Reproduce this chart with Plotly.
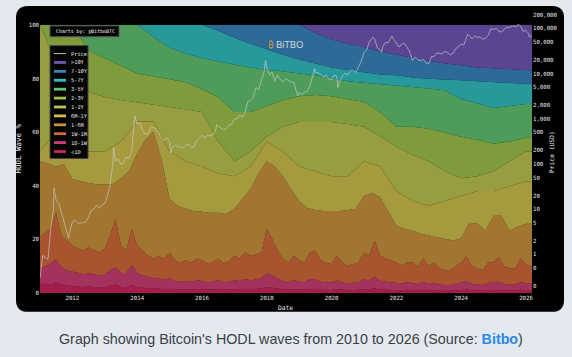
import plotly.graph_objects as go
import pandas as pd

# ---------------- layout geometry (pixels) ----------------
W, H = 572, 357
ML, MR, MT, MB = 40, 40, 10, 64
PW = W - ML - MR
PH = H - MT - MB


def px2x(px):
    return (px - ML) / PW


def px2y(py):
    return (H - MB - py) / PH


# ---------------- data ----------------
band_names = ["<1D", "1D-1W", "1W-1M", "1-6M", "6M-1Y", "1-2Y", "2-3Y", "3-5Y", "5-7Y", "7-10Y", ">10Y"]
band_colors = ["#ce245c", "#cc4076", "#d2693b", "#ca923c", "#cec24e", "#bdc450",
               "#9ec34b", "#63c370", "#31bfc0", "#3884be", "#7256b6"]

end_date = pd.Timestamp("2026-03-10")
dates_s = list(pd.date_range("2011-01-01", "2026-01-01", freq="6MS")) + [end_date]
dates_q = list(pd.date_range("2011-01-01", "2026-01-01", freq="3MS")) + [end_date]
dates_m = list(pd.date_range("2011-01-01", "2026-01-01", freq="2MS")) + [end_date]

# cumulative HODL wave boundaries (% of supply, top edge of each band)
lt1d_top = [3.0, 3.5, 3.0, 4.0, 3.0, 2.8, 2.5, 2.5, 2.2, 2.5, 2.2, 2.0,
            2.2, 2.8, 3.2, 2.2, 2.2, 3.0, 2.2, 2.0, 1.8, 1.6, 1.6, 1.5,
            1.6, 1.4, 1.3, 1.4, 1.3, 1.5, 1.4, 1.2, 1.3, 1.5, 1.2, 1.3,
            1.5, 1.4, 1.6, 1.5, 1.5, 1.7, 2.2, 1.9, 1.6, 1.3, 1.2, 1.4,
            1.2, 1.2, 1.5, 1.6, 1.2, 1.2, 1.1, 1.5, 1.2, 1.0, 1.1, 1.2,
            1.5, 1.4, 1.8, 1.3, 1.2, 1.1, 1.1, 1.0, 1.2, 1.1, 1.0, 1.2,
            1.0, 1.1, 0.9, 0.8, 0.8, 1.0, 1.1, 1.3, 1.0, 0.9, 0.8, 1.1,
            1.1, 1.2, 1.0, 0.9, 0.9, 1.2, 1.0, 1.0]
d1w_top = [9.0, 10.0, 11.0, 12.5, 9.5, 8.5, 8.0, 7.5, 7.0, 7.5, 7.0, 6.5,
           7.0, 8.5, 9.5, 7.5, 7.5, 10.5, 7.5, 6.5, 6.0, 5.5, 5.5, 5.0,
           5.5, 4.5, 4.2, 4.5, 4.2, 4.8, 4.5, 4.0, 4.2, 4.8, 4.0, 4.2,
           4.8, 4.5, 5.2, 4.8, 5.0, 5.5, 7.5, 6.5, 5.5, 4.5, 4.0, 4.8,
           4.2, 4.0, 5.0, 5.2, 4.2, 4.0, 3.8, 4.8, 4.0, 3.6, 3.8, 4.0,
           5.0, 4.8, 6.0, 4.6, 4.2, 4.0, 3.8, 3.5, 4.0, 3.8, 3.4, 4.2,
           3.4, 3.8, 3.2, 3.0, 3.0, 3.4, 3.8, 4.5, 3.4, 3.2, 3.0, 3.8,
           3.8, 4.2, 3.4, 3.2, 3.2, 4.0, 3.6, 3.4]
w1m_top = [21.0, 22.5, 24.0, 30.0, 21.0, 19.6, 17.7, 16.6, 15.9, 17.0, 15.9, 15.1,
           16.6, 21.4, 27.7, 17.7, 15.9, 24.0, 17.7, 15.9, 14.0, 12.9, 13.7, 12.9,
           15.1, 12.2, 11.1, 12.2, 11.4, 12.9, 12.2, 11.1, 11.4, 12.9, 11.1, 11.8,
           14.0, 12.9, 15.1, 14.0, 14.4, 15.1, 24.0, 20.3, 15.9, 12.9, 11.4, 14.0,
           12.2, 11.4, 15.1, 15.9, 12.2, 11.4, 10.7, 14.0, 11.4, 10.3, 10.7, 11.4,
           15.1, 14.0, 19.6, 14.0, 12.9, 12.2, 11.4, 10.3, 11.4, 11.4, 10.0, 12.9,
           10.0, 11.4, 9.2, 8.5, 8.5, 10.0, 11.4, 13.7, 10.0, 9.2, 8.5, 11.4,
           11.4, 13.3, 10.0, 9.2, 9.2, 12.9, 10.7, 10.0]
m1_6_top = [49.1, 48.3, 47.2, 48.0, 42.4, 41.7, 41.0, 40.6, 40.6, 40.6, 42.8, 45.4,
            52.0, 57.0, 60.0, 50.0, 35.1, 32.5, 31.4, 30.6, 30.3, 29.9, 29.9, 29.5,
            31.4, 35.1, 38.7, 44.6, 49.1, 47.2, 43.5, 38.7, 34.3, 31.7, 31.0, 30.6,
            30.6, 30.6, 31.0, 31.4, 36.2, 37.3, 35.8, 30.6, 25.1, 24.0, 23.2, 22.1,
            21.4, 21.0, 20.3, 19.6, 20.3, 26.2, 25.8, 23.2, 28.8, 28.8, 23.2, 24.7,
            25.8, 25.8]
m6_1y_top = [52.8, 60.1, 56.5, 52.8, 52.8, 56.5, 64.0, 64.0, 52.8, 49.1, 47.2, 44.6,
             43.5, 47.2, 56.5, 52.8, 47.2, 45.4, 43.5, 43.5, 49.1, 47.2, 38.0, 34.3,
             32.5, 34.3, 36.2, 38.0, 38.0, 39.9, 41.7, 41.7]
y1_2_top = [100.0, 86.0, 76.8, 75.0, 73.1, 72.0, 71.2, 70.3, 69.4, 68.5, 67.5, 56.5,
            49.1, 52.8, 58.3, 62.0, 63.8, 63.8, 63.8, 63.0, 62.0, 58.5, 54.6, 51.5,
            49.1, 45.4, 42.8, 43.5, 45.4, 49.1, 52.8, 52.8]
y2_3_top = [100.0, 100.0, 100.0, 90.4, 87.5, 84.5, 81.9, 80.8, 79.7, 78.6, 76.0, 73.1,
            67.5, 67.5, 69.7, 72.0, 73.4, 73.8, 73.4, 72.3, 71.2, 67.5, 62.0, 62.0,
            61.3, 59.8, 58.3, 57.2, 55.7, 56.5, 57.9, 58.3]
y3_5_top = [100.0, 100.0, 100.0, 100.0, 100.0, 100.0, 100.0, 95.6, 91.5, 89.3, 87.6, 86.3,
            85.1, 84.1, 83.2, 82.7, 81.9, 81.2, 80.1, 79.0, 78.4, 77.9, 77.3, 76.8,
            76.3, 75.6, 72.3, 70.8, 69.0, 69.7, 70.5, 70.5]
y5_7_top = [100.0, 100.0, 100.0, 100.0, 100.0, 100.0, 100.0, 100.0, 100.0, 100.0, 100.0, 97.8,
            95.2, 93.0, 90.8, 88.9, 87.1, 85.6, 84.1, 83.2, 82.3, 81.5, 81.2, 80.4,
            79.9, 79.5, 79.3, 79.0, 78.6, 78.2, 77.9, 77.9]
y7_10_top = [100.0, 100.0, 100.0, 100.0, 100.0, 100.0, 100.0, 100.0, 100.0, 100.0, 100.0, 100.0,
             100.0, 100.0, 100.0, 100.0, 100.0, 97.0, 94.6, 93.0, 91.7, 90.0, 88.9, 87.8,
             86.7, 85.6, 84.9, 84.1, 83.8, 83.4, 83.0, 83.0]
gt10y_top = [100.0] * len(dates_s)   # stacked total is always 100 %

band_tops = [lt1d_top, d1w_top, w1m_top, m1_6_top, m6_1y_top, y1_2_top,
             y2_3_top, y3_5_top, y5_7_top, y7_10_top, gt10y_top]
band_dates = [dates_m, dates_m, dates_m, dates_q, dates_s, dates_s,
              dates_s, dates_s, dates_s, dates_s, dates_s]

price_dates = [
    "2011-01-01", "2011-02-01", "2011-03-01", "2011-04-01", "2011-05-01", "2011-06-01", "2011-06-08",
    "2011-07-01", "2011-08-01", "2011-09-01", "2011-10-01", "2011-11-01", "2011-11-20", "2011-12-01",
    "2012-01-01", "2012-02-01", "2012-03-01", "2012-04-01", "2012-05-01", "2012-06-01", "2012-07-01",
    "2012-08-01", "2012-09-01", "2012-10-01", "2012-11-01", "2012-12-01",
    "2013-01-01", "2013-02-01", "2013-03-01", "2013-04-01", "2013-04-10", "2013-05-01", "2013-06-01",
    "2013-07-01", "2013-08-01", "2013-09-01", "2013-10-01", "2013-11-01", "2013-12-01", "2013-12-04",
    "2014-01-01", "2014-02-01", "2014-03-01", "2014-04-01", "2014-05-01", "2014-06-01", "2014-07-01",
    "2014-08-01", "2014-09-01", "2014-10-01", "2014-11-01", "2014-12-01",
    "2015-01-01", "2015-01-14", "2015-02-01", "2015-03-01", "2015-04-01", "2015-05-01", "2015-06-01",
    "2015-07-01", "2015-08-01", "2015-09-01", "2015-10-01", "2015-11-01", "2015-12-01",
    "2016-01-01", "2016-02-01", "2016-03-01", "2016-04-01", "2016-05-01", "2016-06-01", "2016-06-17",
    "2016-07-01", "2016-08-01", "2016-09-01", "2016-10-01", "2016-11-01", "2016-12-01",
    "2017-01-01", "2017-02-01", "2017-03-01", "2017-04-01", "2017-05-01", "2017-06-01", "2017-07-01",
    "2017-08-01", "2017-09-01", "2017-10-01", "2017-11-01", "2017-12-01", "2017-12-17",
    "2018-01-01", "2018-02-01", "2018-03-01", "2018-04-01", "2018-05-01", "2018-06-01", "2018-07-01",
    "2018-08-01", "2018-09-01", "2018-10-01", "2018-11-01", "2018-12-01", "2018-12-15",
    "2019-01-01", "2019-02-01", "2019-03-01", "2019-04-01", "2019-05-01", "2019-06-01", "2019-06-26",
    "2019-07-01", "2019-08-01", "2019-09-01", "2019-10-01", "2019-11-01", "2019-12-01",
    "2020-01-01", "2020-02-01", "2020-03-01", "2020-03-12", "2020-04-01", "2020-05-01", "2020-06-01",
    "2020-07-01", "2020-08-01", "2020-09-01", "2020-10-01", "2020-11-01", "2020-12-01",
    "2021-01-01", "2021-02-01", "2021-03-01", "2021-04-01", "2021-04-14", "2021-05-01", "2021-06-01",
    "2021-07-01", "2021-07-20", "2021-08-01", "2021-09-01", "2021-10-01", "2021-11-01", "2021-11-10",
    "2021-12-01",
    "2022-01-01", "2022-02-01", "2022-03-01", "2022-04-01", "2022-05-01", "2022-06-01", "2022-07-01",
    "2022-08-01", "2022-09-01", "2022-10-01", "2022-11-01", "2022-12-01",
    "2023-01-01", "2023-02-01", "2023-03-01", "2023-04-01", "2023-05-01", "2023-06-01", "2023-07-01",
    "2023-08-01", "2023-09-01", "2023-10-01", "2023-11-01", "2023-12-01",
    "2024-01-01", "2024-02-01", "2024-03-01", "2024-03-14", "2024-04-01", "2024-05-01", "2024-06-01",
    "2024-07-01", "2024-08-01", "2024-09-01", "2024-10-01", "2024-11-01", "2024-12-01",
    "2025-01-01", "2025-02-01", "2025-03-01", "2025-04-01", "2025-05-01", "2025-06-01", "2025-07-01",
    "2025-08-01", "2025-09-01", "2025-10-01", "2025-10-06", "2025-11-01", "2025-12-01",
    "2026-01-01", "2026-02-01", "2026-02-06", "2026-03-01", "2026-03-10"]
price_usd = [
    0.30, 0.95, 0.86, 0.78, 3.5, 9.6, 29.6,
    16.1, 13.4, 8.2, 5.1, 3.2, 2.3, 3.0,
    5.3, 5.7, 4.9, 4.9, 5.0, 5.3, 6.7,
    9.4, 10.2, 12.4, 10.6, 12.5,
    13.3, 20.4, 34.5, 104, 230, 116, 129,
    97, 106, 141, 132, 206, 1000, 1150,
    770, 830, 560, 460, 450, 630, 640,
    590, 480, 385, 330, 380,
    315, 175, 225, 260, 245, 235, 225,
    260, 280, 230, 237, 325, 375,
    430, 375, 435, 415, 450, 535, 750,
    680, 620, 570, 610, 730, 750,
    1000, 990, 1220, 1080, 1400, 2400, 2490,
    2870, 4900, 4400, 6700, 10900, 19500,
    13500, 9200, 10900, 6900, 9200, 7500, 6400,
    7700, 7000, 6600, 6300, 4200, 3200,
    3800, 3450, 3800, 4100, 5300, 8600, 12900,
    10600, 10400, 9600, 8300, 9200, 7500,
    7200, 9400, 8600, 4900, 6600, 8800, 10200,
    9200, 11800, 11900, 10600, 13800, 18800,
    29300, 33500, 49600, 59000, 63500, 57800, 36700,
    33500, 29800, 39900, 48800, 48200, 61000, 67500,
    57200,
    47700, 38700, 44400, 46300, 38500, 30000, 19300,
    23300, 20100, 19300, 20500, 17000,
    16600, 23700, 23600, 28500, 28000, 27000, 30600,
    29200, 25900, 27900, 35400, 38700,
    44200, 43100, 62400, 73100, 69700, 58300, 67800,
    62900, 64600, 57300, 60800, 69500, 97200,
    94400, 100600, 86000, 82500, 96500, 105700, 105700,
    113300, 109200, 114000, 124700, 110100, 86300,
    88700, 77000, 65000, 67500, 68500]

price_tickvals = [0.2, 0.5, 1, 2, 5, 10, 20, 50, 100, 200, 500, 1000, 2000, 5000,
                  10000, 20000, 50000, 100000, 200000]
price_ticktext = ["0", "0", "1", "2", "5", "10", "20", "50", "100", "200", "500", "1,000",
                  "2,000", "5,000", "10,000", "20,000", "50,000", "100,000", "200,000"]
wave_tickvals = [0, 20, 40, 60, 80, 100]


def rgba(hexcol, a):
    h = hexcol.lstrip("#")
    return "rgba(%d,%d,%d,%.2f)" % (int(h[0:2], 16), int(h[2:4], 16), int(h[4:6], 16), a)


# ---------------- figure ----------------
fig = go.Figure()
for i, (name, col) in enumerate(zip(band_names, band_colors)):
    fig.add_trace(go.Scatter(
        x=band_dates[i], y=band_tops[i], name=name, mode="lines",
        line=dict(width=0, color=col), fill="tozeroy" if i == 0 else "tonexty",
        fillcolor=rgba(col, 0.8), showlegend=False, xaxis="x", yaxis="y"))

fig.add_trace(go.Scatter(
    x=price_dates, y=price_usd, name="Price", mode="lines",
    line=dict(width=0.8, color="rgba(205,205,205,0.8)"),
    showlegend=False, xaxis="x", yaxis="y2"))

TICKFONT = dict(family="DejaVu Sans Mono", size=5.7, color="#e8e8e8")

shapes = []
annotations = []

# black rounded card
x0, x1 = px2x(16), px2x(564)
y0, y1 = px2y(312), px2y(3)
rx, ry = 12 / PW, 12 / PH
path = (f"M {x0+rx},{y1} L {x1-rx},{y1} Q {x1},{y1} {x1},{y1-ry} "
        f"L {x1},{y0+ry} Q {x1},{y0} {x1-rx},{y0} L {x0+rx},{y0} "
        f"Q {x0},{y0} {x0},{y0+ry} L {x0},{y1-ry} Q {x0},{y1} {x0+rx},{y1} Z")
shapes.append(dict(type="path", xref="paper", yref="paper", path=path,
                   fillcolor="#000000", line=dict(width=0), layer="below"))

# "Charts by" box
shapes.append(dict(type="rect", xref="paper", yref="paper",
                   x0=px2x(50), x1=px2x(119), y0=px2y(34), y1=px2y(23),
                   fillcolor="#050505", line=dict(color="#555555", width=1), layer="above"))
annotations.append(dict(xref="paper", yref="paper", x=px2x(53.5), y=px2y(28.5),
                        xanchor="left", yanchor="middle", showarrow=False,
                        text="Charts by: @BitboBTC",
                        font=dict(family="DejaVu Sans Mono", size=4.9, color="#f0f0f0")))

# legend box (drawn manually for compact rows)
shapes.append(dict(type="rect", xref="paper", yref="paper",
                   x0=px2x(50), x1=px2x(88), y0=px2y(157), y1=px2y(43),
                   fillcolor="#050505", line=dict(color="#444444", width=1), layer="above"))
legend_items = [("Price", None)] + list(zip(band_names[::-1], band_colors[::-1]))
for k, (lab, col) in enumerate(legend_items):
    yc = 51 + 9 * k
    if col is None:
        shapes.append(dict(type="line", xref="paper", yref="paper",
                           x0=px2x(54), x1=px2x(66), y0=px2y(yc), y1=px2y(yc),
                           line=dict(color="#bbbbbb", width=1), layer="above"))
    else:
        shapes.append(dict(type="rect", xref="paper", yref="paper",
                           x0=px2x(54), x1=px2x(66), y0=px2y(yc + 1.4), y1=px2y(yc - 1.4),
                           fillcolor=col, line=dict(width=0), layer="above"))
    annotations.append(dict(xref="paper", yref="paper", x=px2x(69), y=px2y(yc),
                            xanchor="left", yanchor="middle", showarrow=False, text=lab,
                            font=dict(family="DejaVu Sans Mono", size=5.3, color="#e8e8e8")))

# watermark
annotations.append(dict(xref="paper", yref="paper", x=px2x(285), y=px2y(42),
                        xanchor="center", yanchor="middle", showarrow=False,
                        text="<span style='color:#c9962e'>₿</span> BiTBO",
                        font=dict(family="Noto Sans, DejaVu Sans", size=9.5, color="#d8d8d8")))

# axis titles
annotations.append(dict(xref="paper", yref="paper", x=px2x(19), y=px2y(147),
                        xanchor="center", yanchor="middle", showarrow=False, textangle=-90,
                        text="HODL Wave %",
                        font=dict(family="DejaVu Sans Mono", size=7.5, color="#ececec")))
annotations.append(dict(xref="paper", yref="paper", x=px2x(551.5), y=px2y(151),
                        xanchor="center", yanchor="middle", showarrow=False, textangle=-90,
                        text="Price (USD)",
                        font=dict(family="DejaVu Sans Mono", size=6.3, color="#e8e8e8")))
annotations.append(dict(xref="paper", yref="paper", x=px2x(285.5), y=px2y(307.5),
                        xanchor="center", yanchor="middle", showarrow=False,
                        text="Date",
                        font=dict(family="DejaVu Sans Mono", size=6.3, color="#e8e8e8")))

# caption
annotations.append(dict(xref="paper", yref="paper", x=px2x(291), y=px2y(339.5),
                        xanchor="center", yanchor="middle", showarrow=False,
                        text="Graph showing Bitcoin's HODL waves from 2010 to 2026 (Source: "
                             "<span style='color:#2a8ae6'><b>Bitbo</b></span>)",
                        font=dict(family="Liberation Sans, Arial", size=14.3, color="#3a3f46")))

fig.update_layout(
    width=W, height=H,
    margin=dict(l=ML, r=MR, t=MT, b=MB),
    paper_bgcolor="#e4e9f0", plot_bgcolor="rgba(0,0,0,0)",
    showlegend=False, hovermode=False,
    xaxis=dict(type="date", range=["2011-01-01", "2026-03-10"], anchor="y",
               tick0="2012-01-01", dtick="M24", tickformat="%Y",
               showgrid=False, zeroline=False, showline=False, ticks="",
               tickfont=TICKFONT),
    yaxis=dict(domain=[0, px2y(22)], range=[0, 100], tickvals=wave_tickvals,
               showgrid=False, zeroline=False, showline=False, ticks="",
               tickfont=TICKFONT, anchor="x"),
    yaxis2=dict(domain=[0, 1], type="log", range=[-0.853, 5.339], side="right", anchor="x",
                tickvals=price_tickvals, ticktext=price_ticktext,
                showgrid=False, zeroline=False, showline=False, ticks="",
                tickfont=TICKFONT),
    shapes=shapes, annotations=annotations,
)

fig.write_html("out.html", config={"displayModeBar": False},
               post_script="document.body.style.margin='0';")
